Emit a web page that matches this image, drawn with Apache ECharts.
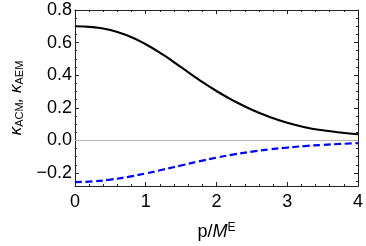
<!DOCTYPE html>
<html><head><meta charset="utf-8">
<script src="https://cdn.jsdelivr.net/npm/echarts@6/dist/echarts.min.js"></script>
<style>html,body{margin:0;padding:0;background:#fff}#c{width:366px;height:246px}</style>
</head><body><div id="c"></div>
<script>
var xValues = [0, 0.25, 0.5, 0.75, 1.0, 1.25, 1.5, 1.75, 2.0, 2.25, 2.5, 2.75, 3.0, 3.25, 3.5, 3.75, 4.0];
var kappaACM = [0.700, 0.695, 0.677, 0.642, 0.590, 0.524, 0.449, 0.373, 0.303, 0.241, 0.188, 0.144, 0.108, 0.081, 0.062, 0.048, 0.038];
var kappaAEM = [-0.256, -0.252, -0.241, -0.224, -0.203, -0.179, -0.154, -0.129, -0.106, -0.086, -0.069, -0.055, -0.044, -0.035, -0.028, -0.022, -0.017];
var yMajorTicks = [-0.2, 0.0, 0.2, 0.4, 0.6, 0.8];
var yMinorTicks = [-0.25, -0.15, -0.1, -0.05, 0.05, 0.1, 0.15, 0.25, 0.3, 0.35, 0.45, 0.5, 0.55, 0.65, 0.7, 0.75];
var zeroLine = 0;

function pairs(xs, ys){ return xs.map(function(x,i){ return [x, ys[i]]; }); }
var FONT = 'Liberation Sans, Arial, sans-serif';
function yAxisDef(pos, ticks, len, showLine, showLabel){
  return {
    type:'value', position:pos, min:-0.28, max:0.8,
    axisLine:{show:showLine, onZero:false, lineStyle:{color:'#222', width:1}},
    axisTick:{show:true, inside:true, length:len, customValues:ticks, lineStyle:{color:'#222', width:1}},
    axisLabel:{show:showLabel, customValues:yMajorTicks, margin:3, fontFamily:FONT, fontSize:18, color:'#000',
      formatter:function(v){ var s=Math.abs(v).toFixed(1); return (v < -1e-9 ? '\u2212' : '') + s; }},
    splitLine:{show:false}
  };
}
var chart = echarts.init(document.getElementById('c'), null, {renderer:'canvas'});
var yLeft = yAxisDef('left', yMajorTicks, 4, true, true);
yLeft.name = '{k|\u03BA}{s|ACM}{k|, \u03BA}{s|AEM}';
yLeft.nameLocation = 'middle';
yLeft.nameRotate = 90;
yLeft.nameGap = 49;
yLeft.nameTextStyle = {fontFamily:FONT, color:'#000', rich:{
  k:{fontFamily:FONT, fontSize:17, fontStyle:'italic', color:'#000'},
  s:{fontFamily:FONT, fontSize:11, color:'#000', padding:[7,0,0,0]}
}};
chart.setOption({
  animation:false,
  grid:{left:67, right:6, top:10, bottom:58},
  xAxis:[
    {type:'value', position:'bottom', min:0, max:4, interval:1,
     axisLine:{show:true, onZero:false, lineStyle:{color:'#222', width:1}},
     axisTick:{show:true, inside:true, length:4, lineStyle:{color:'#222'}},
     minorTick:{show:true, splitNumber:5, length:2, lineStyle:{color:'#222'}},
     axisLabel:{margin:7, fontFamily:FONT, fontSize:18, color:'#000'},
     splitLine:{show:false},
     name:'{n|p/}{i|M}{u|E}', nameLocation:'middle', nameGap:36,
     nameTextStyle:{rich:{
       n:{fontFamily:FONT, fontSize:18, color:'#000'},
       i:{fontFamily:FONT, fontSize:18, fontStyle:'italic', color:'#000'},
       u:{fontFamily:FONT, fontSize:12, color:'#000', padding:[0,0,8,0]}
     }}},
    {type:'value', position:'top', min:0, max:4, interval:1,
     axisLine:{show:true, onZero:false, lineStyle:{color:'#222', width:1}},
     axisTick:{show:true, inside:true, length:4, lineStyle:{color:'#222'}},
     minorTick:{show:true, splitNumber:5, length:2, lineStyle:{color:'#222'}},
     axisLabel:{show:false}, splitLine:{show:false}}
  ],
  yAxis:[
    yLeft,
    yAxisDef('right', yMajorTicks, 4, true, false),
    yAxisDef('left', yMinorTicks, 2, false, false),
    yAxisDef('right', yMinorTicks, 2, false, false)
  ],
  series:[
    {type:'line', xAxisIndex:0, yAxisIndex:0, data:pairs(xValues, kappaACM), smooth:true, showSymbol:false,
     lineStyle:{color:'#000', width:2.1}, z:3,
     markLine:{silent:true, symbol:['none','none'], label:{show:false}, animation:false,
       lineStyle:{color:'#b8b8b8', width:1, type:'solid'}, data:[{yAxis:zeroLine}]}},
    {type:'line', xAxisIndex:0, yAxisIndex:0, data:pairs(xValues, kappaAEM), smooth:true, showSymbol:false,
     lineStyle:{color:'#0000ff', width:2.2, type:[7,3.5]}, z:3}
  ]
});
</script></body></html>
